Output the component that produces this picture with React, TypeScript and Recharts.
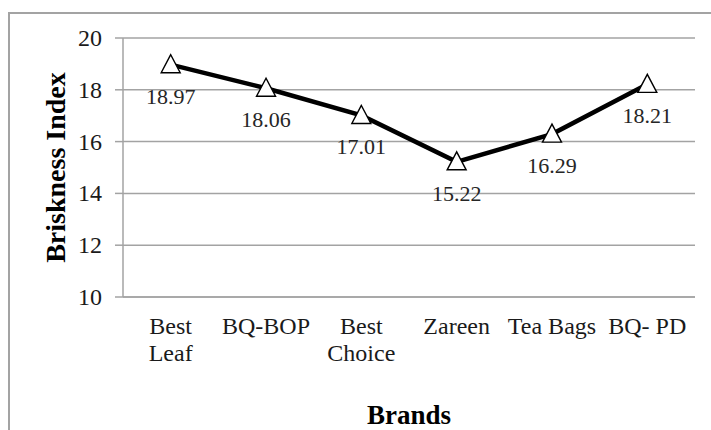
import { LineChart, Line, XAxis, YAxis, CartesianGrid, LabelList } from 'recharts';

const brands = ['Best Leaf', 'BQ-BOP', 'Best Choice', 'Zareen', 'Tea Bags', 'BQ- PD'];
const brandLines = [['Best', 'Leaf'], ['BQ-BOP'], ['Best', 'Choice'], ['Zareen'], ['Tea Bags'], ['BQ- PD']];
const briskness = [18.97, 18.06, 17.01, 15.22, 16.29, 18.21];
const yTicks = [10, 12, 14, 16, 18, 20];

const data = brands.map((brand, i) => ({ brand, value: briskness[i] }));

const FONT = '"Liberation Serif", "Times New Roman", serif';
const GRID = '#a3a3a3';

const BrandTick = (props: any) => {
  const { x, y, index } = props;
  const lines = brandLines[index] || [];
  return (
    <text x={x} y={y} textAnchor="middle" style={{ fontFamily: FONT, fontSize: 24 }} fill="#1a1a1a">
      {lines.map((l, i) => (
        <tspan key={i} x={x} dy={i === 0 ? 31 : 27}>{l}</tspan>
      ))}
    </text>
  );
};

const ValueTick = (props: any) => {
  const { x, y, payload } = props;
  return (
    <text x={x} y={y} dy={8} textAnchor="end" style={{ fontFamily: FONT, fontSize: 24 }} fill="#1a1a1a">
      {payload.value}
    </text>
  );
};

const Triangle = (props: any) => {
  const { cx, cy } = props;
  if (cx == null || cy == null) return null;
  return (
    <polygon
      points={`${cx},${cy - 10} ${cx - 9.5},${cy + 8} ${cx + 9.5},${cy + 8}`}
      fill="#fff"
      stroke="#000"
      strokeWidth={1.4}
    />
  );
};

const ValueLabel = (props: any) => {
  const { x, y, value } = props;
  return (
    <text x={x} y={y + 39} textAnchor="middle" style={{ fontFamily: FONT, fontSize: 22 }} fill="#262626">
      {Number(value).toFixed(2)}
    </text>
  );
};

const App = () => {
  return (
    <div style={{ position: 'fixed', left: 0, top: 0, width: 711, height: 430, overflow: 'hidden', background: '#fff' }}>
      <div
        style={{
          position: 'absolute',
          left: 8,
          top: 12,
          width: 740,
          height: 460,
          border: `2px solid ${GRID}`,
        }}
      />
      <div style={{ position: 'absolute', left: 0, top: 0 }}>
        <LineChart width={711} height={430} data={data} margin={{ top: 38, right: 16, left: 0, bottom: 0 }}>
          <CartesianGrid vertical={false} stroke={GRID} strokeWidth={1.5} />
          <XAxis
            dataKey="brand"
            height={133}
            padding={{ left: 47.7, right: 47.7 }}
            tickLine={false}
            axisLine={{ stroke: GRID, strokeWidth: 1.5 }}
            tick={<BrandTick />}
            interval={0}
            tickMargin={0}
            label={{
              content: (p: any) => {
                const vb = p.viewBox;
                return (
                  <text x={vb.x + vb.width / 2} y={vb.y + 127} textAnchor="middle" style={{ fontFamily: FONT, fontSize: 27, fontWeight: 'bold' }} fill="#000">
                    Brands
                  </text>
                );
              },
            }}
          />
          <YAxis
            width={123}
            domain={[10, 20]}
            ticks={yTicks}
            interval={0}
            tickSize={8}
            tickMargin={13}
            tickLine={{ stroke: GRID, strokeWidth: 1.5 }}
            axisLine={{ stroke: GRID, strokeWidth: 1.5 }}
            tick={<ValueTick />}
            label={{
              content: (p: any) => {
                const vb = p.viewBox;
                const cx = vb.x + 65;
                const cy = vb.y + vb.height / 2;
                return (
                  <text x={cx} y={cy} textAnchor="middle" transform={`rotate(-90, ${cx}, ${cy})`} style={{ fontFamily: FONT, fontSize: 28, fontWeight: 'bold' }} fill="#000">
                    Briskness Index
                  </text>
                );
              },
            }}
          />
          <Line
            type="linear"
            dataKey="value"
            stroke="#000"
            strokeWidth={4.5}
            dot={<Triangle />}
            activeDot={false}
            isAnimationActive={false}
          >
            <LabelList dataKey="value" content={<ValueLabel />} />
          </Line>
        </LineChart>
      </div>
    </div>
  );
};

export default App;
